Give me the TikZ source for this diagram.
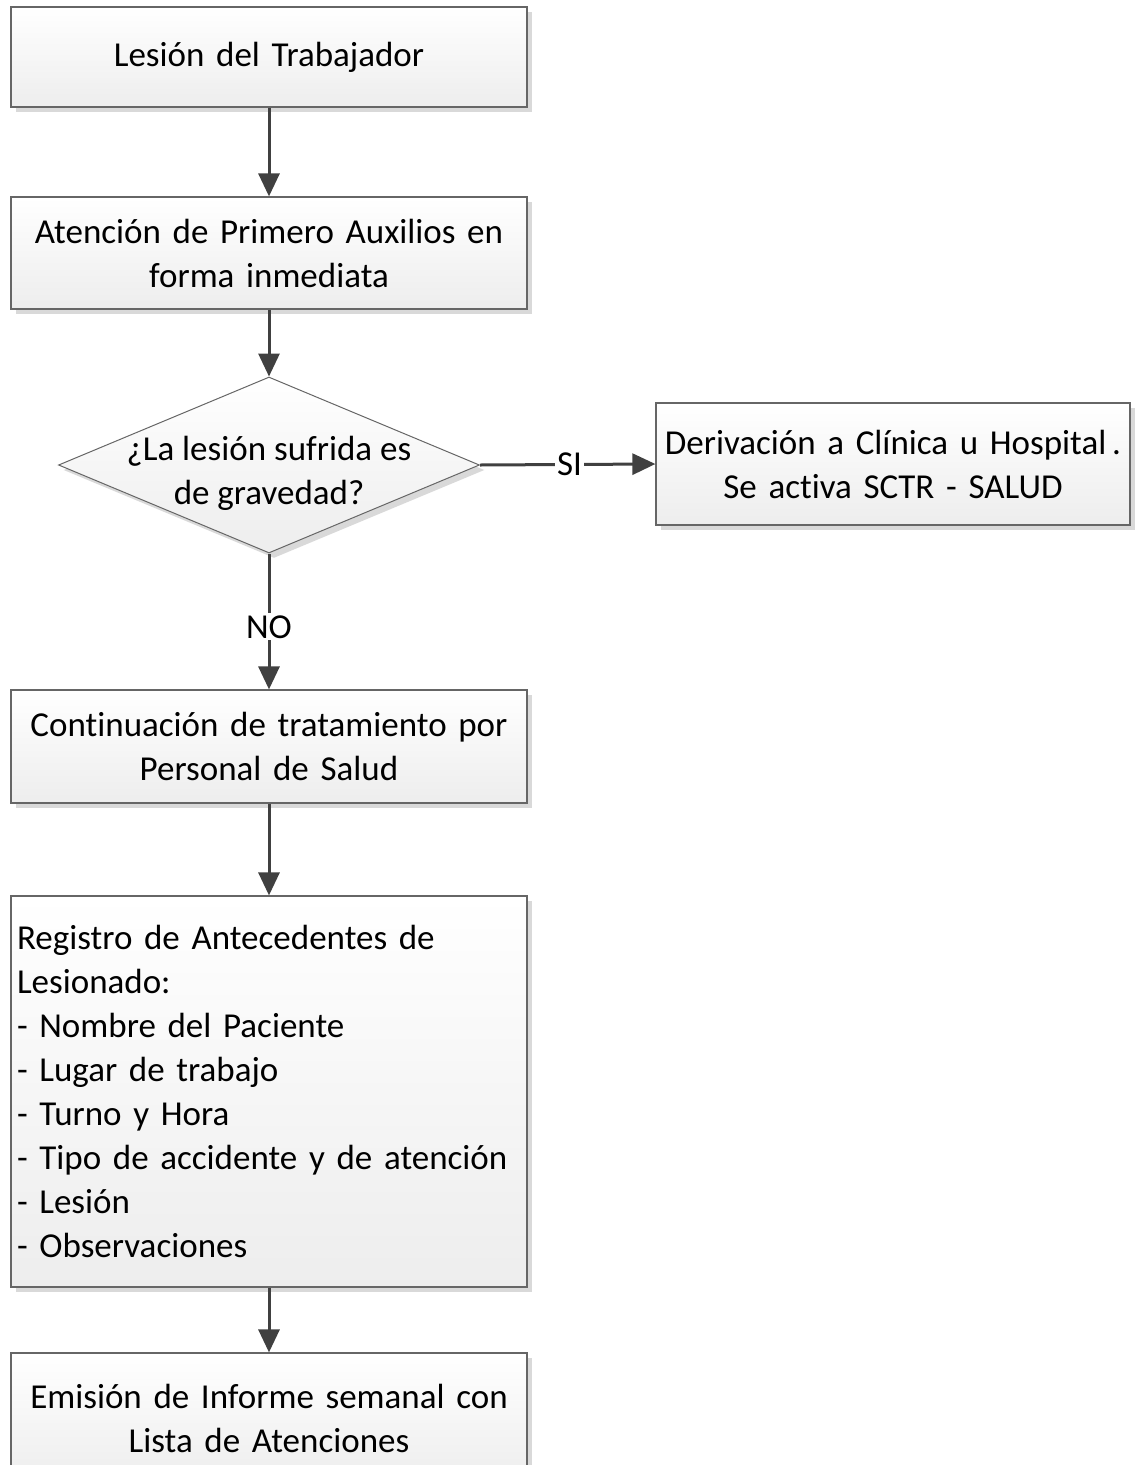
\documentclass[tikz,border=0pt]{standalone}
\usepackage{fontspec}
\setmainfont{Carlito}[Ligatures=NoCommon]
\usetikzlibrary{shapes.geometric,arrows.meta,shadows}

\tikzset{
    proc/.style={draw=black!60, line width=1.2pt, top color=white, bottom color=black!7,
        drop shadow={shadow xshift=5pt, shadow yshift=-5pt, fill=black!15, opacity=1},
        inner sep=6pt, align=center, text width=504pt},
    decision/.style={diamond, draw=black!60, line width=1pt, top color=white, bottom color=black!7,
        drop shadow={shadow xshift=5pt, shadow yshift=-5pt, fill=black!15, opacity=1},
        inner sep=0pt, minimum width=421pt, minimum height=176pt},
    flow/.style={draw=black!75, line width=3pt, -{Triangle[length=23pt,width=21pt]}},
    lbl/.style={fill=white, inner sep=2pt}
}

\begin{document}
\begin{tikzpicture}[x=1pt,y=-1pt,
        every node/.append style={font=\fontsize{35}{44}\selectfont}]
    \useasboundingbox (0,0) rectangle (1139,1465);
    %% main column
    \node[proc, minimum height=100pt] (lesion) at (269,57) {Lesión del Trabajador};
    \node[proc, minimum height=112pt] (aux) at (269,253) {Atención de Primero Auxilios en\\forma inmediata};
    \node[decision] (grave) at (269,465) {};
    \node[align=center] (gravetxt) at (269,473) {¿La lesión sufrida es\\de gravedad?};
    \node[proc, text width=462pt, minimum height=122pt] (deriv) at (893,464) {Derivación a Clínica u Hospital\,.\\Se activa SCTR - SALUD};
    \node[proc, minimum height=113pt] (cont) at (269,746.5) {Continuación de tratamiento por\\Personal de Salud};
    \node[proc, minimum height=391pt, align=left] (reg) at (269,1091.5) {Registro de Antecedentes de\\Lesionado:\\- Nombre del Paciente\\- Lugar de trabajo\\- Turno y Hora\\- Tipo de accidente y de atención\\- Lesión\\- Observaciones};
    \node[proc, minimum height=130pt] (inf) at (269,1418) {Emisión de Informe semanal con\\Lista de Atenciones};
    %% connectors
    \draw[flow] (lesion) -- (aux);
    \draw[flow] (aux) -- (grave.north);
    \draw[flow] (grave.east) -- node[lbl, pos=0.51] (si) {SI} (deriv.west);
    \draw[flow] (grave.south) -- node[lbl, pos=0.54] (no) {NO} (cont.north);
    \draw[flow] (cont) -- (reg);
    \draw[flow] (reg) -- (inf);
\end{tikzpicture}
\end{document}
